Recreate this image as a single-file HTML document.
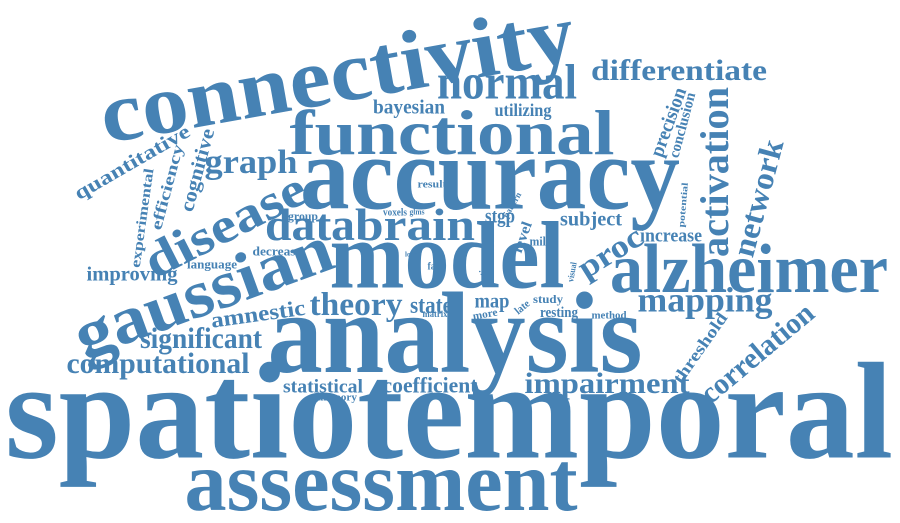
<!DOCTYPE html>
<html><head><meta charset="utf-8"><style>
html,body{margin:0;padding:0;background:#fff;}
svg{display:block;}
text{font-family:"Liberation Serif",serif;font-weight:bold;fill:#4682b4;}
</style></head><body>
<svg id="cloud" width="900" height="523" viewBox="0 0 900 523"></svg>
<script>
const words = ["spatiotemporal","assessment","analysis","model","accuracy","functional","connectivity","normal","differentiate","alzheimer","gaussian","disease","data","brain","graph","bayesian","utilizing","quantitative","cognitive","efficiency","experimental","theory","state","amnestic","significant","computational","improving","language","decrease","group","stgp","subject","increase","proc","activation","network","precision","conclusion","mapping","impairment","correlation","threshold","statistical","coefficient","memory","map","resting","method","study","late","more","matrix","level","mild","pattern","result","fast","time","visual","potential","voxels","glms","local"];
const sizes = [138,85,115,95,104,64,85,50,30,70,68,50,45,45,34,20,18,20,20,16,14,33,24,22,30,30,20,13,13,12,20,20,19,32,40,32,20,15,35,30,30,17,19,22,11,20,15,11,12,11,11,9,15,13,9,11,10,10,9,9,10,8,7];
const cxs = [449,381,455,447,490,452,337,507,679,749,203,225,310,415,251,409,523,132,197,167,142,356,431,258,201,158,132,212,277,303,500,591,671,610,715,758,668,682,705,607,757,700,323,430,337,492,559,609,548,522,485,435,522,541,512,432,435,483,572,683,395,417,412];
const cys = [412,482,334,256,174,133,74,82,70,269,292,225,225,225,162,107,110,162,170,187,218,304,305,314,338,363,274,264,251,216,216,219,235,252,172,198,122,125,300,383,353,348,386,385,397,301,312,315,299,307,314,314,237,241,205,184,266,267,272,205,212,212,254];
const widths = [888,393,375,235,380,325,480,140,176,278,270,175,90,120,93,72,57,130,85,88,100,93,42,95,122,183,91,50,49,30,30,62,62,70,170,120,72,67,135,165,138,82,80,95,40,35,38,35,30,16,25,25,32,23,28,29,15,18,20,45,24,15,14];
const rots = [0,0,0,0,0,0,-10,0,0,0,-20,-27,0,0,0,0,0,-30,-75,-75,-82,0,0,-8,0,0,0,0,0,0,0,0,0,-32,-90,-75,-70,-75,0,0,-40,-55,0,0,0,0,0,0,0,-40,-10,0,-70,0,-60,0,0,-90,-80,-85,0,0,0];
const svg = document.getElementById('cloud');
const NS = 'http://www.w3.org/2000/svg';
for (let i = 0; i < words.length; i++) {
  const t = document.createElementNS(NS, 'text');
  
  
  t.setAttribute('x', cxs[i]);
  t.setAttribute('y', cys[i]);
  t.setAttribute('dy', '0.33em');
  t.setAttribute('text-anchor', 'middle');
  t.setAttribute('font-size', sizes[i]);
  t.setAttribute('textLength', widths[i]);
  t.setAttribute('lengthAdjust', 'spacingAndGlyphs');
  if (rots[i]) t.setAttribute('transform', 'rotate(' + rots[i] + ' ' + cxs[i] + ' ' + cys[i] + ')');
  t.textContent = words[i];
  svg.appendChild(t);
}
</script>
</body></html>
